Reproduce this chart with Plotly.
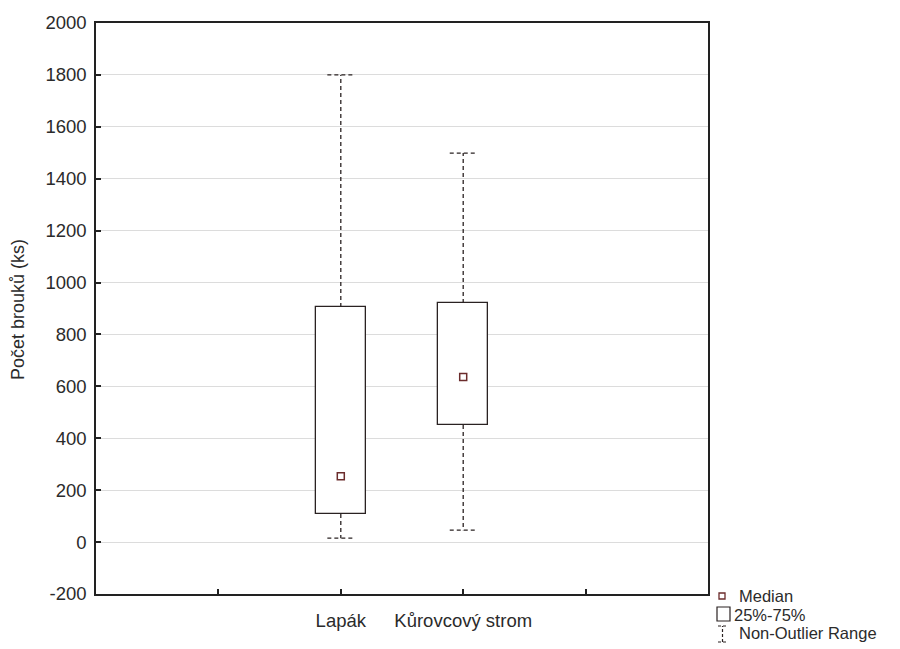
import plotly.graph_objects as go

# ---- data ----
categories = ["Lapák", "Kůrovcový strom"]
positions = [0, 1]
q1 = [108, 451]
q3 = [906, 921]
medians = [254, 636]
mins = [15, 46]
maxs = [1800, 1499]

y_ticks = [-200, 0, 200, 400, 600, 800, 1000, 1200, 1400, 1600, 1800, 2000]
y_ticklabels = [str(v) for v in y_ticks]
x_tickvals = [-1, 0, 1, 2]
x_ticklabels = ["", categories[0], categories[1], ""]

FONT = "Liberation Sans, Arial, sans-serif"
TXT = "#2b2b2b"
DARK = "#2a2222"
MED = "#6b2c2c"
BOXW = 0.41
CAPW = 0.11

fig = go.Figure()

# boxes (25%-75%)
fig.add_trace(go.Bar(
    x=positions, y=[b - a for a, b in zip(q1, q3)], base=q1, width=BOXW,
    marker=dict(color="white", line=dict(color=DARK, width=1.3)),
    showlegend=False, hoverinfo="skip"))

# whiskers (non-outlier range)
wx, wy = [], []
for p, a, b, lo, hi in zip(positions, q1, q3, mins, maxs):
    wx += [p, p, None, p, p, None]
    wy += [b, hi, None, a, lo, None]
    wx += [p - CAPW, p + CAPW, None, p - CAPW, p + CAPW, None]
    wy += [hi, hi, None, lo, lo, None]
fig.add_trace(go.Scatter(
    x=wx, y=wy, mode="lines",
    line=dict(color=DARK, width=1.3, dash="4px,3px"),
    showlegend=False, hoverinfo="skip"))

# medians
fig.add_trace(go.Scatter(
    x=positions, y=medians, mode="markers",
    marker=dict(symbol="square-open", size=7, color=MED, line=dict(width=1.5, color=MED)),
    showlegend=False))

L, R, T, B = 96, 192, 23, 55
W, H = 900, 649
pw, ph = W - L - R, H - T - B


def px(x):
    return (x - L) / pw


def py(y):
    return (H - B - y) / ph


shapes = [
    dict(type="rect", xref="paper", yref="paper", x0=px(719), x1=px(725), y0=py(599), y1=py(593),
         line=dict(color=MED, width=1.3), fillcolor="white"),
    dict(type="rect", xref="paper", yref="paper", x0=px(717), x1=px(730), y0=py(621), y1=py(607),
         line=dict(color=DARK, width=1.2), fillcolor="white"),
    dict(type="line", xref="paper", yref="paper", x0=px(722.5), x1=px(722.5), y0=py(642), y1=py(626),
         line=dict(color=DARK, width=1.2, dash="3px,2px")),
    dict(type="line", xref="paper", yref="paper", x0=px(718), x1=px(727), y0=py(626), y1=py(626),
         line=dict(color=DARK, width=1.2, dash="3px,2px")),
    dict(type="line", xref="paper", yref="paper", x0=px(718), x1=px(727), y0=py(642), y1=py(642),
         line=dict(color=DARK, width=1.2, dash="3px,2px")),
]

LEG = 16.5
annotations = [
    dict(text="Median", x=px(737), y=py(596), xref="paper", yref="paper", xanchor="left", yanchor="middle",
         showarrow=False, font=dict(size=LEG, color=TXT, family=FONT)),
    dict(text="25%-75%", x=px(732), y=py(614.5), xref="paper", yref="paper", xanchor="left", yanchor="middle",
         showarrow=False, font=dict(size=LEG, color=TXT, family=FONT)),
    dict(text="Non-Outlier Range", x=px(737), y=py(633), xref="paper", yref="paper", xanchor="left", yanchor="middle",
         showarrow=False, font=dict(size=LEG, color=TXT, family=FONT)),
    dict(text="Počet brouků (ks)", x=px(18), y=py(310), xref="paper", yref="paper", xanchor="center", yanchor="middle",
         textangle=-90, showarrow=False, font=dict(size=18, color=TXT, family=FONT)),
]

fig.update_layout(
    width=W, height=H,
    margin=dict(l=L, r=R, t=T, b=B),
    plot_bgcolor="white", paper_bgcolor="white",
    font=dict(family=FONT, size=18.5, color=TXT),
    shapes=shapes, annotations=annotations,
    bargap=0,
)
fig.update_xaxes(
    range=[-2, 3], tickvals=x_tickvals, ticktext=x_ticklabels,
    showgrid=False, zeroline=False, showline=True, mirror=True, linecolor="#222", linewidth=1.5,
    ticks="inside", ticklen=5, tickcolor="#222", tickwidth=1.5,
    tickfont=dict(size=18.5, color=TXT, family=FONT), ticklabelstandoff=9,
)
fig.update_yaxes(
    range=[-200, 2000], tickvals=y_ticks, ticktext=y_ticklabels,
    showgrid=True, gridcolor="#dcdcdc", gridwidth=1, zeroline=False,
    showline=True, mirror=True, linecolor="#222", linewidth=1.5,
    ticks="inside", ticklen=5, tickcolor="#222", tickwidth=1.5,
    tickfont=dict(size=18.5, color=TXT, family=FONT), ticklabelstandoff=4,
)

fig.write_html("out.html", config={"displayModeBar": False},
               post_script="document.body.style.margin='0px';document.body.style.overflow='hidden';")
